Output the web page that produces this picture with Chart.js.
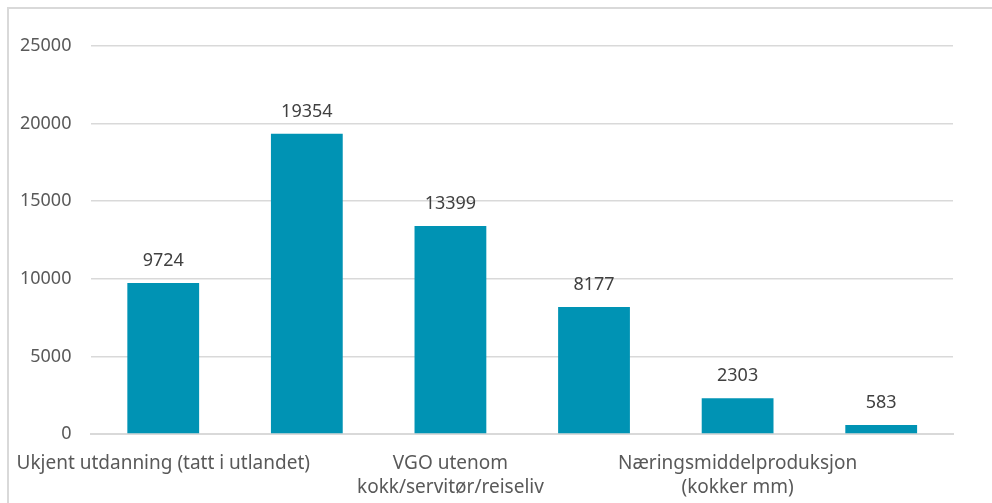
<!DOCTYPE html>
<html>
<head>
<meta charset="utf-8">
<script src="https://cdn.jsdelivr.net/npm/chart.js@4"></script>
<style>
  body { margin: 0; background: #fff; }
  #wrap { position: relative; width: 992px; height: 503px; overflow: hidden; }
  #frame { position: absolute; left: 7px; top: 7px; width: 1100px; height: 600px; border: 2px solid #d9d9d9; box-sizing: border-box; }
  canvas { position: absolute; left: 0; top: 0; }
</style>
</head>
<body>
<div id="wrap">
  <div id="frame"></div>
  <canvas id="chart" width="992" height="503"></canvas>
</div>
<script>
// categories (Excel only showed every other label)
const labels = [
  "Ukjent utdanning (tatt i utlandet)",
  "",
  ["VGO utenom", "kokk/servitør/reiseliv"],
  "",
  ["Næringsmiddelproduksjon", "(kokker mm)"],
  "",
];
const values = [9724, 19354, 13399, 8177, 2303, 583];
const yTicks = [0, 5000, 10000, 15000, 20000, 25000];

const barColor = "#0093b4";
const gridColor = "#d9d9d9";
const font = "'Noto Sans', sans-serif";

// draws the numbers above each bar
const valueLabels = {
  id: "valueLabels",
  afterDatasetsDraw(chart) {
    const ctx = chart.ctx;
    const meta = chart.getDatasetMeta(0);
    ctx.save();
    ctx.font = "18px " + font;
    ctx.fillStyle = "#404040";
    ctx.textAlign = "center";
    ctx.textBaseline = "bottom";
    meta.data.forEach((bar, i) => {
      ctx.fillText(values[i], bar.x, bar.y - 13);
    });
    ctx.restore();
  },
};

new Chart(document.getElementById("chart"), {
  type: "bar",
  data: {
    labels: labels,
    datasets: [
      {
        data: values,
        backgroundColor: barColor,
        barPercentage: 0.5,
        categoryPercentage: 1,
      },
    ],
  },
  options: {
    responsive: false,
    animation: false,
    layout: { padding: { top: 46, right: 39, left: 0, bottom: 0 } },
    plugins: {
      legend: { display: false },
      tooltip: { enabled: false },
    },
    scales: {
      x: {
        grid: { display: false },
        border: { display: true, color: gridColor, width: 2 },
        ticks: {
          autoSkip: false,
          maxRotation: 0,
          padding: 9,
          color: "#595959",
          font: { family: font, size: 19, lineHeight: 1.28 },
        },
        afterFit(scale) {
          scale.height = 69;
        },
      },
      y: {
        min: 0,
        max: 25000,
        afterBuildTicks(scale) {
          scale.ticks = yTicks.map((v) => ({ value: v }));
        },
        grid: { color: gridColor, lineWidth: 1.5, drawTicks: false },
        border: { display: false },
        ticks: {
          padding: 20,
          color: "#595959",
          font: { family: font, size: 18 },
          callback: (v) => String(v),
        },
        afterFit(scale) {
          scale.width = 90;
        },
      },
    },
  },
  plugins: [valueLabels],
});
</script>
</body>
</html>
